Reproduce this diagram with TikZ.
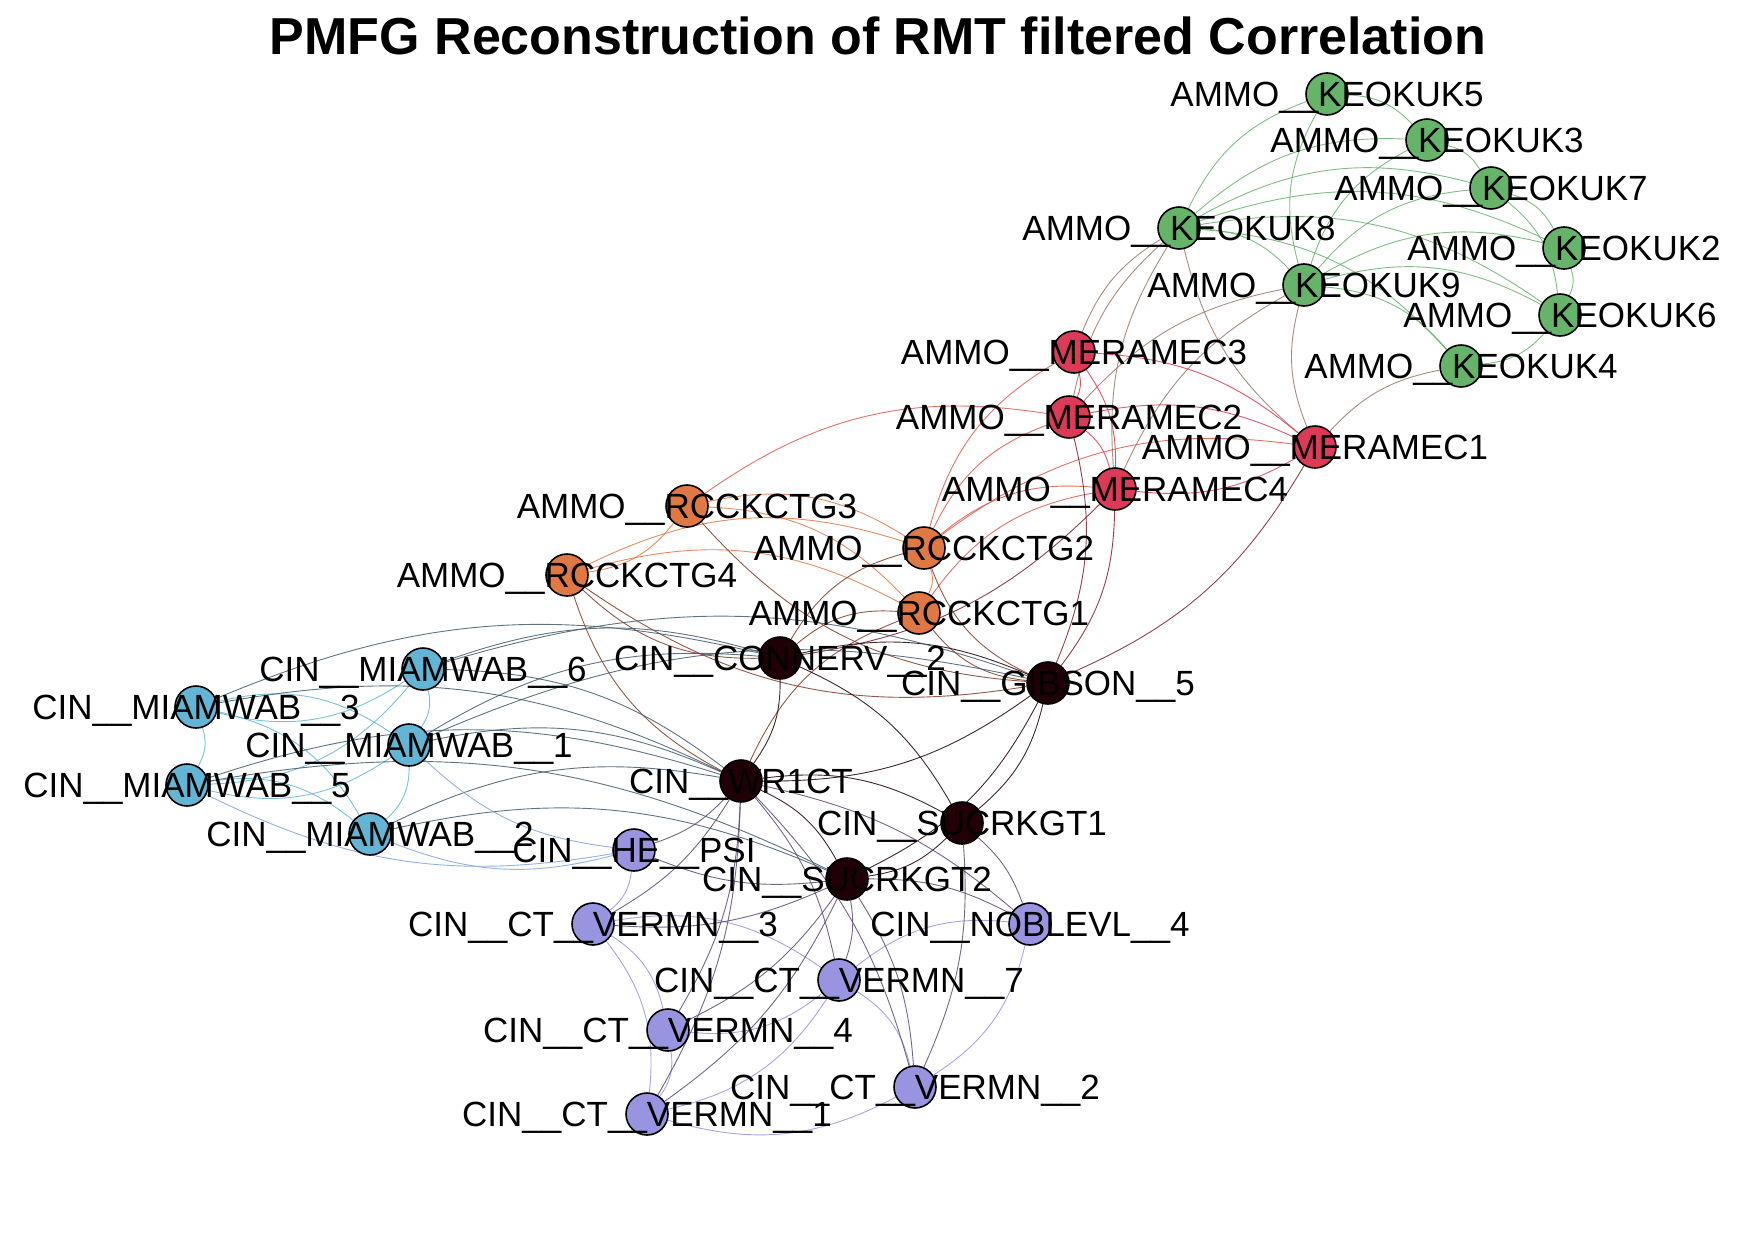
\documentclass[tikz,border=0pt]{standalone}
\usepackage{fontspec}
\setmainfont{Liberation Sans}
\usetikzlibrary{backgrounds}
\definecolor{cg}{HTML}{66B36A}
\definecolor{cr}{HTML}{DC3A56}
\definecolor{co}{HTML}{E07843}
\definecolor{ck}{HTML}{200006}
\definecolor{cb}{HTML}{63B5D6}
\definecolor{cp}{HTML}{9894E0}
\begin{document}
\begin{tikzpicture}[x=1pt,y=-1pt,
 vert/.style={circle,draw=black,line width=1.6pt,minimum size=42pt,inner sep=0pt},
 lab/.style={anchor=base,yshift=-12.5pt,font=\fontsize{35}{35}\selectfont,inner sep=0pt},
 e/.style={line width=0.9pt,opacity=0.85},
 gg/.style={e,draw=cg},
 gr/.style={e,draw=cg!50!cr!80!gray},
 rr/.style={e,draw=cr},
 ro/.style={e,draw=cr!50!co},
 rk/.style={e,draw=cr!50!ck},
 oo/.style={e,draw=co},
 ok/.style={e,draw=co!50!ck},
 kk/.style={e,draw=ck},
 bb/.style={e,draw=cb},
 bk/.style={e,draw=cb!50!ck},
 bp/.style={e,draw=cb!50!cp},
 pp/.style={e,draw=cp},
 pk/.style={e,draw=cp!50!ck}]
\useasboundingbox (0,0) rectangle (1754,1239);
\node[font=\bfseries\fontsize{52}{52}\selectfont,anchor=base,inner sep=0pt] (title) at (878,55) {PMFG Reconstruction of RMT filtered Correlation};
\foreach \n/\x/\y/\c/\t in {
 K5/1327/94/cg/AMMO\_\_KEOKUK5,
 K3/1427/140/cg/AMMO\_\_KEOKUK3,
 K7/1491/188/cg/AMMO\_\_KEOKUK7,
 K8/1179/228/cg/AMMO\_\_KEOKUK8,
 K2/1564/248/cg/AMMO\_\_KEOKUK2,
 K9/1304/285/cg/AMMO\_\_KEOKUK9,
 K6/1560/315/cg/AMMO\_\_KEOKUK6,
 K4/1461/366/cg/AMMO\_\_KEOKUK4,
 ME3/1074/352/cr/AMMO\_\_MERAMEC3,
 ME2/1069/417/cr/AMMO\_\_MERAMEC2,
 ME1/1315/447/cr/AMMO\_\_MERAMEC1,
 ME4/1115/489/cr/AMMO\_\_MERAMEC4,
 RC3/687/506/co/AMMO\_\_RCCKCTG3,
 RC2/924/548/co/AMMO\_\_RCCKCTG2,
 RC4/567/575/co/AMMO\_\_RCCKCTG4,
 RC1/919/613/co/AMMO\_\_RCCKCTG1,
 CON/780/658/ck/CIN\_\_CONNERV\_\_2,
 GIB/1048/683/ck/CIN\_\_GIBSON\_\_5,
 MW6/423/669/cb/CIN\_\_MIAMWAB\_\_6,
 MW3/196/707/cb/CIN\_\_MIAMWAB\_\_3,
 MW1/409/745/cb/CIN\_\_MIAMWAB\_\_1,
 MW5/187/785/cb/CIN\_\_MIAMWAB\_\_5,
 WR/741/781/ck/CIN\_\_WR1CT,
 SU1/962/823/ck/CIN\_\_SUCRKGT1,
 MW2/370/834/cb/CIN\_\_MIAMWAB\_\_2,
 HE/634/850/cp/CIN\_\_HE\_\_PSI,
 SU2/847/879/ck/CIN\_\_SUCRKGT2,
 CT3/593/924/cp/CIN\_\_CT\_\_VERMN\_\_3,
 NOB/1030/924/cp/CIN\_\_NOBLEVL\_\_4,
 CT7/839/980/cp/CIN\_\_CT\_\_VERMN\_\_7,
 CT4/668/1030/cp/CIN\_\_CT\_\_VERMN\_\_4,
 CT2/915/1087/cp/CIN\_\_CT\_\_VERMN\_\_2,
 CT1/647/1114/cp/CIN\_\_CT\_\_VERMN\_\_1}
 {\node[vert,fill=\c] (\n) at (\x,\y) {};
  \node[lab] (l\n) at (\x,\y) {\t};}
\begin{pgfonlayer}{background}
\foreach \a/\b in {K8/K5,K8/K3,K8/K7,K8/K2,K8/K9,K8/K6,K8/K4,K9/K5,K9/K3,K9/K7,K9/K2,K9/K6,K9/K4,K5/K3,K3/K7,K7/K2,K2/K6,K6/K4,K7/K6}
 \draw[gg] (\a) to[bend left=22] (\b);
\foreach \a/\b in {K8/ME3,K8/ME2,K8/ME4,K8/ME1,K9/ME1,K9/ME4,K4/ME1,K9/ME2}
 \draw[gr] (\a) to[bend right=18] (\b);
\foreach \a/\b in {ME3/ME2,ME3/ME1,ME3/ME4,ME2/ME1,ME2/ME4,ME1/ME4}
 \draw[rr] (\a) to[bend left=18] (\b);
\foreach \a/\b in {ME2/RC2,ME4/RC2,ME1/RC2,ME3/RC2,ME4/RC1,ME2/RC3}
 \draw[ro] (\a) to[bend right=22] (\b);
\foreach \a/\b in {ME1/GIB,ME4/GIB,ME2/GIB,ME4/CON}
 \draw[rk] (\a) to[bend left=18] (\b);
\foreach \a/\b in {RC3/RC4,RC3/RC2,RC3/RC1,RC4/RC2,RC4/RC1,RC2/RC1}
 \draw[oo] (\a) to[bend left=22] (\b);
\foreach \a/\b in {RC4/CON,RC4/GIB,RC3/GIB,RC1/CON,RC2/GIB,RC1/GIB,RC1/WR,RC2/CON,RC4/WR}
 \draw[ok] (\a) to[bend right=22] (\b);
\foreach \a/\b in {CON/GIB,CON/WR,CON/SU1,GIB/WR,GIB/SU1,WR/SU1,WR/SU2,SU1/SU2,GIB/SU2}
 \draw[kk] (\a) to[bend left=18] (\b);
\foreach \a/\b in {MW6/MW3,MW6/MW1,MW3/MW1,MW3/MW5,MW1/MW5,MW1/MW2,MW5/MW2,MW3/MW2,MW6/MW5}
 \draw[bb] (\a) to[bend left=24] (\b);
\foreach \a/\b in {MW6/WR,MW6/CON,MW6/GIB,MW3/WR,MW3/CON,MW1/WR,MW1/GIB,MW5/WR,MW2/WR,MW2/SU2,MW5/SU2,MW1/CON}
 \draw[bk] (\a) to[bend left=18] (\b);
\foreach \a/\b in {MW1/HE,MW5/HE,MW2/HE}
 \draw[bp] (\a) to[bend right=18] (\b);
\foreach \a/\b in {HE/CT3,CT3/CT7,CT3/CT4,CT7/CT4,CT7/CT2,CT7/CT1,CT7/NOB,CT4/CT1,CT2/CT1,CT3/CT1,NOB/CT2}
 \draw[pp] (\a) to[bend left=22] (\b);
\foreach \a/\b in {HE/WR,HE/SU2,CT3/WR,CT7/SU2,CT7/WR,CT4/WR,CT2/WR,CT2/SU1,CT2/SU2,CT1/WR,CT1/SU2,NOB/SU1,NOB/SU2,NOB/WR,CT4/SU2,CT3/SU2}
 \draw[pk] (\a) to[bend right=14] (\b);
\end{pgfonlayer}
\end{tikzpicture}
\end{document}
